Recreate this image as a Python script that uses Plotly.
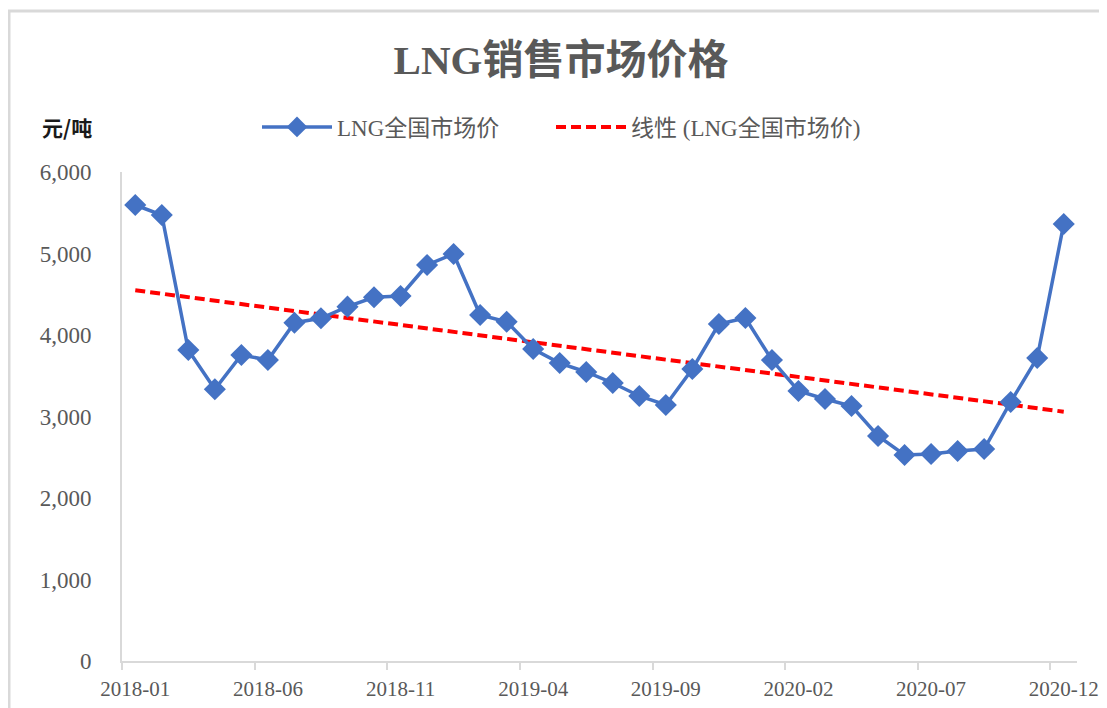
import numpy as np
import plotly.graph_objects as go

# monthly LNG national market price, yuan/ton
months = ["2018-01", "2018-02", "2018-03", "2018-04", "2018-05", "2018-06",
          "2018-07", "2018-08", "2018-09", "2018-10", "2018-11", "2018-12",
          "2019-01", "2019-02", "2019-03", "2019-04", "2019-05", "2019-06",
          "2019-07", "2019-08", "2019-09", "2019-10", "2019-11", "2019-12",
          "2020-01", "2020-02", "2020-03", "2020-04", "2020-05", "2020-06",
          "2020-07", "2020-08", "2020-09", "2020-10", "2020-11", "2020-12"]
price = [5595, 5472, 3816, 3334, 3755, 3693, 4151, 4205, 4348, 4463, 4479, 4859,
         4994, 4245, 4163, 3828, 3656, 3546, 3411, 3252, 3141, 3583, 4135, 4209,
         3693, 3313, 3215, 3129, 2761, 2528, 2540, 2577, 2601, 3178, 3718, 5362]
tick_idx = [0, 5, 10, 15, 20, 25, 30, 35]
tick_labels = [months[i] for i in tick_idx]

series_name = "LNG全国市场价"
trend_name = "线性 (LNG全国市场价)"

idx = np.arange(len(price))
slope, icpt = np.polyfit(idx, price, 1)
trend = slope * idx + icpt

SERIF = "Liberation Serif, Noto Sans CJK SC, serif"
GREY = "#595959"
AXIS = "#D9D9D9"

# page body has an 8px margin, so the figure is shifted; work in figure px
OFF = 8
W, H = 1107 - OFF, 708 - OFF
L, T = 122 - OFF, 172 - OFF
R, B = W - (1077 - OFF), H - (661 - OFF)
pw, ph = W - L - R, H - T - B


def px_x(sx):
    return (sx - OFF - L) / pw


def px_y(sy):
    return (H - B - (sy - OFF)) / ph


def legend_box(sx):
    return dict(orientation="h", x=px_x(sx), xanchor="left",
                y=px_y(127), yanchor="middle",
                font=dict(size=23, color=GREY), itemwidth=70,
                bgcolor="rgba(0,0,0,0)")


fig = go.Figure()
fig.add_trace(go.Scatter(
    x=idx, y=trend, name=trend_name, mode="lines", legend="legend2",
    line=dict(color="#FF0000", width=4, dash="10px,5px"),
))
fig.add_trace(go.Scatter(
    x=idx, y=price, name=series_name, mode="lines+markers", legend="legend",
    line=dict(color="#4472C4", width=3.5),
    marker=dict(symbol="diamond", size=17, color="#4472C4"),
))

fig.update_layout(
    width=W, height=H,
    margin=dict(l=L, r=R, t=T, b=B, autoexpand=False),
    paper_bgcolor="white", plot_bgcolor="white",
    font=dict(family=SERIF, color=GREY),
    title=dict(text="<b>LNG销售市场价格</b>", x=(561 - OFF) / W, xanchor="center",
               y=1 - (60 - OFF) / H, yanchor="middle", yref="container",
               font=dict(family=SERIF, size=41, color=GREY)),
    showlegend=True,
    legend=legend_box(257),
    legend2=legend_box(551),
    xaxis=dict(range=[-0.5, 35.5], tickmode="array", tickvals=tick_idx,
               ticktext=tick_labels, ticks="", showgrid=False, zeroline=False,
               showline=True, linecolor=AXIS, linewidth=2, automargin=False,
               tickfont=dict(size=21, color=GREY), ticklabelstandoff=8,
               minor=dict(tickmode="array", tickvals=[i - 0.5 for i in tick_idx],
                          ticks="outside", ticklen=7, tickcolor=AXIS, tickwidth=2,
                          showgrid=False)),
    yaxis=dict(range=[0, 6000], dtick=1000, tickformat=",", ticks="",
               showgrid=False, zeroline=False, showline=True, linecolor=AXIS,
               linewidth=2, automargin=False, tickfont=dict(size=23, color=GREY),
               ticklabelstandoff=24),
    annotations=[dict(text="<b>元/吨</b>", xref="paper", yref="paper",
                      x=px_x(40), xanchor="left",
                      y=px_y(127), yanchor="middle", showarrow=False,
                      font=dict(family="Noto Sans CJK SC", size=21, color="#1a1a1a"))],
    shapes=[dict(type="rect", xref="paper", yref="paper",
                 x0=px_x(9), x1=1.2, y0=-0.3, y1=px_y(11),
                 line=dict(color=AXIS, width=3), fillcolor="rgba(0,0,0,0)",
                 layer="below")],
)

fig.write_html("out.html")
